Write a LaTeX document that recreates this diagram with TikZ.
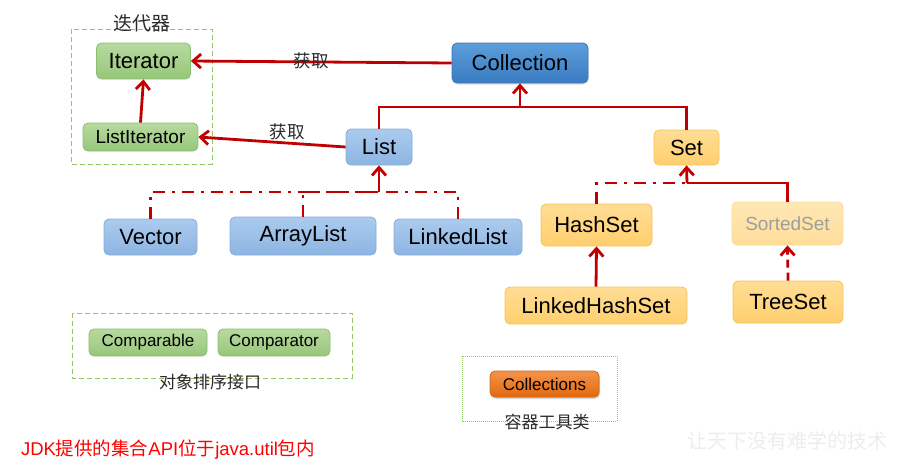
\documentclass[tikz,border=0pt]{standalone}
\usepackage{fontspec}
\setmainfont{Liberation Sans}
\newfontfamily\cjk{Noto Sans CJK SC}
\usetikzlibrary{arrows.meta,shadows}
\definecolor{conred}{HTML}{C00000}
\definecolor{grnT}{HTML}{B7DA9F}
\definecolor{grnB}{HTML}{97C67A}
\definecolor{grnD}{HTML}{8CBF6D}
\definecolor{bluT}{HTML}{ABCBEE}
\definecolor{bluB}{HTML}{8DB5E2}
\definecolor{bluD}{HTML}{86ACD8}
\definecolor{dbT}{HTML}{5C9DDA}
\definecolor{dbB}{HTML}{3A7CC3}
\definecolor{dbD}{HTML}{3C78B8}
\definecolor{ylT}{HTML}{FFDD95}
\definecolor{ylB}{HTML}{FFCF6E}
\definecolor{ylD}{HTML}{F7C25A}
\definecolor{orT}{HTML}{F5934A}
\definecolor{orB}{HTML}{E2690E}
\definecolor{orD}{HTML}{D0651A}
\definecolor{frame}{HTML}{94C864}
\definecolor{labelc}{HTML}{2A2A2A}
\tikzset{
  box/.style={rectangle, rounded corners=5pt, inner sep=0pt, line width=0.8pt,
    font=\fontsize{22}{24}\selectfont, text=black},
  greenbox/.style={box, draw=grnD, top color=grnT, bottom color=grnB},
  bluebox/.style={box, draw=bluD, top color=bluT, bottom color=bluB},
  darkbox/.style={box, draw=dbD, top color=dbT, bottom color=dbB,
    drop shadow={shadow xshift=0.5pt, shadow yshift=-1.5pt, opacity=0.25}},
  yellowbox/.style={box, draw=ylD, top color=ylT, bottom color=ylB},
  orangebox/.style={box, draw=orD, top color=orT, bottom color=orB,
    drop shadow={shadow xshift=1pt, shadow yshift=-2pt, opacity=0.35}},
  sz/.style 2 args={minimum width=#1pt, minimum height=#2pt},
  redline/.style={draw=conred, line width=2.8pt},
  arr/.style={redline, -{Straight Barb[length=8pt,width=14pt]}},
  dashdot/.style={dash pattern=on 12pt off 7pt on 3pt off 7pt},
  dashline/.style={dash pattern=on 8pt off 5pt},
  cjklabel/.style={font=\cjk\fontsize{17}{19}\selectfont, text=labelc, inner sep=0pt},
  groupframe/.style={draw=frame, line width=1pt, dash pattern=on 5pt off 3pt},
  dotframe/.style={draw=frame, line width=1pt, dash pattern=on 1pt off 1pt},
}
\begin{document}
\begin{tikzpicture}[x=1pt,y=-1pt]
\useasboundingbox (0,0) rectangle (904,472);

% group frames
\draw[groupframe] (71,29) rectangle (212,164);
\node[cjklabel, font=\cjk\fontsize{19}{21}\selectfont] (lbliter) at (142,23) {迭代器};
\draw[groupframe] (72,313) rectangle (352,378);
\node[cjklabel] (lblcmp) at (210,382) {对象排序接口};
\draw[dotframe] (462,356) rectangle (617,421);
\node[cjklabel] (lbltool) at (547,422) {容器工具类};

% nodes
\node[greenbox, sz={94}{36}] (iter) at (143.5,61) {Iterator};
\node[greenbox, sz={115}{28}, font=\fontsize{19}{21}\selectfont] (listit) at (140.5,137) {ListIterator};
\node[darkbox, sz={136}{40}] (coll) at (520,63) {Collection};
\node[bluebox, sz={66}{36}] (list) at (379,147) {List};
\node[yellowbox, sz={65}{35}] (set) at (686.5,147.5) {Set};
\node[bluebox, sz={93}{36}] (vector) at (150.5,237) {Vector};
\node[bluebox, sz={146}{38}] (array) at (303,236) {ArrayList};
\node[bluebox, sz={128}{36}] (linked) at (458,237) {LinkedList};
\node[yellowbox, sz={111}{42}] (hash) at (596.5,225) {HashSet};
\node[box, sz={111}{43}, draw=ylD!60, top color=ylT!70, bottom color=ylB!70,
  font=\fontsize{19}{21}\selectfont, text=black!38] (sorted) at (787.5,223.5) {SortedSet};
\node[yellowbox, sz={182}{37}] (lhs) at (596,305.5) {LinkedHashSet};
\node[yellowbox, sz={110}{42}] (tree) at (788,302) {TreeSet};
\node[greenbox, sz={118}{27}, font=\fontsize{17}{19}\selectfont] (comparable) at (148,342.5) {Comparable};
\node[greenbox, sz={112}{27}, font=\fontsize{17}{19}\selectfont] (comparator) at (274,342.5) {Comparator};
\node[orangebox, sz={109}{26}, font=\fontsize{17}{19}\selectfont] (colls) at (544.5,384) {Collections};

% junctions
\coordinate (jc) at (520,107);
\coordinate (jl) at (379,192);
\coordinate (js) at (687,183);

% connectors
\draw[arr] (coll.west) -- (iter.east);
\node[cjklabel, font=\cjk\fontsize{17.5}{19}\selectfont] (get1) at (311,61) {获取};
\draw[arr] (list.west) -- (listit.east);
\node[cjklabel, font=\cjk\fontsize{17.5}{19}\selectfont] (get2) at (287,132) {获取};
\draw[arr] (listit.north) -- (iter.south);

\draw[redline] (list.north) |- (jc) -| (set.north);
\draw[arr] (jc) -- (coll.south);

\draw[redline, dashdot] (vector.north) |- (jl);
\draw[redline, dashdot] (array.north) |- (jl);
\draw[redline, dashdot] (linked.north) |- (jl);
\draw[arr] (jl) -- (list.south);

\draw[redline, dashdot] (hash.north) |- (js);
\draw[redline] (sorted.north) |- (js);
\draw[arr] (js) -- (set.south);

\draw[arr] (lhs.north) -- (hash.south);
\draw[arr, dashline] (tree.north) -- (sorted.south);

% footer texts
\node[inner sep=0pt, text=red, font=\fontsize{18.5}{20}\selectfont] (jdk) at (168,450)
  {JDK{\cjk 提供的集合}API{\cjk 位于}java.util{\cjk 包内}};
\node[inner sep=0pt, text=black!7, font=\cjk\fontsize{20}{22}\selectfont] (wm) at (787,441)
  {让天下没有难学的技术};
\end{tikzpicture}
\end{document}
